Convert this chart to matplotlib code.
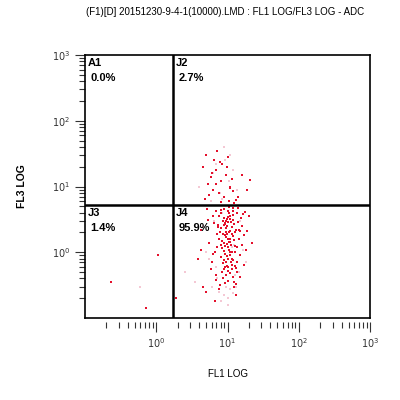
import numpy as np
import matplotlib.pyplot as plt
from matplotlib.ticker import LogLocator, NullFormatter

title = "(F1)[D] 20151230-9-4-1(10000).LMD : FL1 LOG/FL3 LOG - ADC"
x_label = "FL1 LOG"
y_label = "FL3 LOG"

# quadrant gates
gate_x = 1.7
gate_y = 5.2
quad_names = ["A1", "J2", "J3", "J4"]
quad_pcts = ["0.0%", "2.7%", "1.4%", "95.9%"]

# events (red, strong)
x_red = [9.0, 10.5, 12.0, 8.2, 11.0, 13.5, 9.8, 7.5, 10.2, 11.8, 8.8, 12.5, 9.4, 10.8,
         7.9, 11.5, 13.0, 9.1, 10.0, 8.5, 12.2, 9.7, 11.2, 7.2, 10.6, 8.9, 12.8, 9.3,
         11.0, 8.1, 10.3, 9.6, 12.0, 8.7, 11.4, 10.1, 9.0, 13.2, 8.3, 10.7, 9.5, 11.8,
         8.6, 10.0, 9.2, 12.5, 7.8, 15.0, 16.0, 6.5, 5.5, 6.0, 14.5, 17.0, 15.5, 6.8,
         5.2, 14.0, 7.0, 13.8, 9.9, 10.4, 9.6, 10.9, 9.3, 11.6, 10.2, 9.8, 11.1, 8.4,
         12.1, 10.6, 9.1, 11.3, 10.0, 9.7, 8.8, 10.8, 11.9, 9.4, 10.3, 8.6, 12.6, 9.0,
         11.5, 10.1, 8.9, 13.4, 7.6, 14.8, 18.0, 6.2, 16.5, 7.3, 12.9, 9.5, 10.7, 8.2,
         11.7, 9.2, 1.07, 0.23, 1.9, 0.72, 3.8, 4.5, 20.0, 22.0, 5.0, 6.6, 13.0, 4.2,
         5.0, 6.5, 4.5, 7.0, 8.5, 10.0, 5.8, 8.0, 9.5, 11.0, 6.2, 7.5, 12.0, 9.0,
         4.8, 13.0, 10.5, 8.2, 6.8, 11.5, 9.8, 14.0, 16.0, 5.5, 12.5, 7.2, 10.8,
         6.3, 7.1, 14.2, 15.8, 19.0, 5.9, 6.7, 13.6, 17.5, 8.0, 12.3, 7.4, 15.2, 11.9,
         9.3, 10.5, 8.7, 11.4, 9.9, 12.7, 6.9, 14.6, 8.1, 10.9, 5.4, 16.8, 7.7, 13.1,
         4.2, 6.0, 18.5, 5.3, 7.9, 21.0]
y_red = [4.5, 4.8, 4.2, 3.9, 3.6, 4.0, 3.2, 3.5, 2.9, 3.1, 2.6, 2.7, 2.3, 2.1,
         2.0, 1.9, 2.2, 1.8, 1.6, 1.5, 1.55, 1.35, 1.3, 1.2, 1.1, 1.05, 1.0, 0.95,
         0.9, 0.85, 0.8, 0.72, 0.75, 0.68, 0.65, 0.6, 0.55, 0.58, 0.5, 0.48, 0.45, 0.42,
         0.4, 0.37, 0.34, 0.35, 0.32, 0.9, 2.5, 2.8, 1.4, 0.7, 1.6, 1.8, 3.3, 4.2,
         4.6, 4.7, 0.45, 0.5, 2.5, 2.0, 1.7, 1.45, 1.25, 2.4, 3.4, 0.88, 0.7, 1.15,
         1.75, 3.9, 2.8, 2.9, 1.2, 0.62, 0.75, 1.0, 3.7, 3.0, 0.52, 1.9, 2.0, 1.4,
         0.8, 4.3, 3.3, 1.2, 1.6, 2.1, 1.1, 0.95, 3.8, 2.4, 0.62, 2.0, 1.6, 2.3,
         1.0, 0.6, 0.9, 0.35, 0.2, 0.14, 0.8, 0.3, 3.5, 1.4, 0.25, 0.18, 0.22, 2.2,
         30.0, 25.0, 20.0, 18.0, 22.0, 28.0, 14.0, 12.0, 15.0, 10.0, 9.0, 8.0, 8.5, 7.0,
         6.5, 6.2, 6.0, 5.8, 11.0, 13.0, 20.0, 7.0, 15.0, 7.5, 5.6, 35.0, 9.5,
         3.6, 1.9, 2.9, 1.3, 2.1, 0.55, 1.0, 0.72, 4.1, 4.4, 0.3, 2.6, 0.42, 4.7,
         2.7, 1.45, 3.0, 0.55, 1.9, 1.25, 0.38, 2.2, 1.3, 3.2, 3.1, 0.65, 0.28, 0.33,
         1.1, 16.0, 9.0, 11.0, 24.0, 12.5]

# faint events (pale pink)
x_faint = [6.0, 7.5, 9.0, 11.0, 13.0, 5.0, 8.0, 10.0, 12.0, 14.5, 6.5, 8.5, 9.5, 11.5,
           7.0, 12.5, 4.5, 5.5, 15.0, 16.5, 7.8, 10.5, 9.2, 6.2, 13.5, 8.8, 11.8, 5.8,
           10.2, 7.2, 12.8, 9.6, 0.6, 2.5, 18.0, 4.0, 3.5, 8.3, 10.8, 6.9]
y_faint = [0.3, 0.25, 0.22, 0.28, 0.3, 1.0, 0.18, 0.2, 0.24, 0.5, 3.0, 4.0, 2.0, 1.2,
           0.6, 1.3, 2.5, 0.8, 3.0, 1.1, 8.0, 12.0, 25.0, 16.0, 9.0, 40.0, 18.0, 6.0,
           0.16, 0.4, 0.45, 0.3, 0.3, 0.5, 0.7, 10.0, 0.35, 6.5, 30.0, 22.0]

fig = plt.figure(figsize=(4, 4), dpi=100)
ax = fig.add_axes([0.2125, 0.205, 0.7125, 0.6575])

ax.scatter(x_faint, y_faint, s=1.8, marker="s", color="#f4c8d4", linewidths=0)
ax.scatter(x_red, y_red, s=1.6, marker="s", color="#e4102c", linewidths=0)

ax.set_xscale("log")
ax.set_yscale("log")
ax.set_xlim(0.1, 1000)
ax.set_ylim(0.1, 1000)

ax.axvline(gate_x, color="black", lw=1.8)
ax.axhline(gate_y, color="black", lw=1.8)

ax.xaxis.set_minor_locator(LogLocator(base=10, subs=np.arange(2, 10), numticks=10))
ax.yaxis.set_minor_locator(LogLocator(base=10, subs=np.arange(2, 10), numticks=10))
ax.xaxis.set_minor_formatter(NullFormatter())
ax.yaxis.set_minor_formatter(NullFormatter())

ax.set_xticks([1, 10, 100, 1000])
ax.set_xticklabels([r"$10^0$", r"$10^1$", r"$10^2$", r"$10^3$"])
ax.set_yticks([1, 10, 100, 1000])
ax.set_yticklabels([r"$10^0$", r"$10^1$", r"$10^2$", r"$10^3$"])

ax.tick_params(which="major", direction="out", length=7, width=0.8, labelsize=7,
               colors="#333333")
ax.tick_params(which="minor", direction="out", length=4, width=0.8, colors="#333333")
ax.tick_params(axis="x", pad=3)

ax.spines["bottom"].set_position(("outward", 3))
ax.spines["bottom"].set_color("none")
ax.plot([0, 1], [0, 0], transform=ax.transAxes, color="black", lw=1.2, clip_on=False)
for s in ["top", "left", "right"]:
    ax.spines[s].set_linewidth(1.2)

font = dict(fontsize=8, fontweight="bold", family="Liberation Sans")
pos = [(0.1, 1000), (gate_x, 1000), (0.1, gate_y), (gate_x, gate_y)]
for (px, py), name, pct in zip(pos, quad_names, quad_pcts):
    ax.annotate(name, (px, py), xytext=(2, -2), textcoords="offset points",
                ha="left", va="top", **font)
    ax.annotate(pct, (px, py), xytext=(4, -13), textcoords="offset points",
                ha="left", va="top", **font)

fig.text(0.5625, 0.97, title, ha="center", va="center", fontsize=7,
         family="Liberation Sans")
ax.set_xlabel(x_label, fontsize=7, family="Liberation Sans", labelpad=14)
ax.set_ylabel(y_label, fontsize=7.5, family="Liberation Sans", fontweight="bold",
              labelpad=18)

fig.savefig("out.png", dpi=100)
